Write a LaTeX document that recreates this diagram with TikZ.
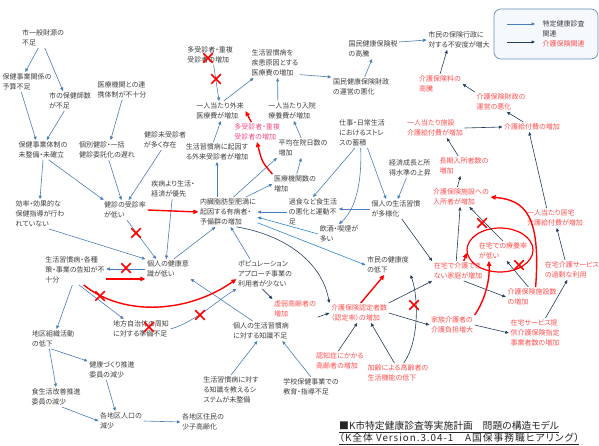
\documentclass[tikz,border=0pt]{standalone}
\usepackage{fontspec}
\setmainfont{Noto Sans CJK JP}[RawFeature={+palt}]
\usetikzlibrary{arrows.meta,shapes.geometric,shapes.misc,calc}
\definecolor{tg}{HTML}{404040}
\definecolor{tred}{HTML}{FF4F4F}
\definecolor{tpink}{HTML}{F0508C}
\definecolor{ab}{HTML}{4A7EBB}
\definecolor{al}{HTML}{2E86D6}
\definecolor{an}{HTML}{263D5E}
\definecolor{legb}{HTML}{6C8EBF}
\definecolor{legf}{HTML}{F5F8FC}
\tikzset{
  gtext/.style={font=\fontsize{7}{10}\selectfont, text=tg, align=left, inner sep=1.5pt},
  rtext/.style={gtext, text=tred},
  ptext/.style={gtext, text=tpink},
  barrow/.style={draw=ab, line width=0.6pt, -{Triangle[length=3.5pt,width=3pt]}},
  larrow/.style={draw=al, line width=0.6pt, -{Triangle[length=3.5pt,width=3pt]}},
  narrow/.style={draw=an, line width=0.6pt, -{Triangle[length=3.5pt,width=3pt]}},
  rarrow/.style={draw=red, line width=1.4pt, -{Triangle[length=5pt,width=4.5pt]}},
  xm/.style={cross out, draw=red, line width=1.5pt, minimum size=8pt, inner sep=0pt}
}
\begin{document}
\begin{tikzpicture}[x=1pt,y=-1pt]
\useasboundingbox[fill=white] (0,0) rectangle (599,446);
% ellipse
\node[ellipse, draw=red, line width=1.2pt, minimum width=66pt, minimum height=44pt, inner sep=0pt] (ell) at (500,250) {};
% nodes (grey)
\node[gtext] (n1) at (43,38) {市一般財源の\\不足};
\node[gtext] (n2) at (27,82) {保健事業関係の\\予算不足};
\node[gtext] (n3) at (70,101) {市の保健師数\\が不足};
\node[gtext] (n4) at (122,90) {医療機関との連\\携体制が不十分};
\node[gtext] (n5) at (43,150) {保健事業体制の\\未整備・未確立};
\node[gtext] (n6) at (107,150) {個別健診・一括\\健診委託化の遅れ};
\node[gtext] (n7) at (165,140) {健診未受診者\\が多く存在};
\node[gtext] (n8) at (40,214) {効率・効果的な\\保健指導が行わ\\れていない};
\node[gtext] (n9) at (125,210) {健診の受診率\\が低い};
\node[gtext] (n10) at (173,189) {疾病より生活・\\経済が優先};
\node[gtext] (n11) at (168,269) {個人の健康意\\識が低い};
\node[gtext] (n12) at (75,270) {生活習慣病・各種\\策・事業の告知が不\\十分};
\node[gtext] (n13) at (141,329) {地方自治体の周知\\に対する準備不足};
\node[gtext] (n14) at (53,339) {地区組織活動\\の低下};
\node[gtext] (n15) at (112,370) {健康づくり推進\\委員の減少};
\node[gtext] (n16) at (56,397) {食生活改善推進\\委員の減少};
\node[gtext] (n17) at (121,421) {各地区人口の\\減少};
\node[gtext] (n18) at (203,422) {各地区住民の\\少子高齢化};
\node[gtext] (n19) at (210,55) {多受診者・重複\\受診者の増加};
\node[gtext] (n20) at (220,111) {一人当たり外来\\医療費が増加};
\node[gtext] (n21) at (275,63) {生活習慣病を\\疾患原因とする\\医療費の増加};
\node[gtext] (n22) at (292,111) {一人当たり入院\\療養費が増加};
\node[ptext] (n23) at (257,132) {多受診者・重複\\受診者の増加};
\node[gtext] (n24) at (217,152) {生活習慣病に起因す\\る外来受診者が増加};
\node[gtext] (n25) at (303,148) {平均在院日数の\\増加};
\node[gtext] (n26) at (295,184) {医療機関数の\\増加};
\node[gtext] (n27) at (228,212) {内臓脂肪型肥満に\\起因する有病者・\\予備群の増加};
\node[gtext] (n28) at (313,212) {過食など食生活\\の悪化と運動不\\足};
\node[gtext] (n29) at (339,234) {飲酒・喫煙が\\多い};
\node[gtext] (n30) at (362,133) {仕事・日常生活\\におけるストレ\\スの蓄積};
\node[gtext] (n31) at (361,87) {国民健康保険財政\\の運営の悪化};
\node[gtext] (n32) at (373,49) {国民健康保険税\\の高騰};
\node[gtext] (n33) at (459,40) {市民の保険行政に\\対する不安度が増大};
\node[gtext] (n47) at (410,168) {経済成長と所\\得水準の上昇};
\node[gtext] (n48) at (396,209) {個人の生活習慣\\が多様化};
\node[gtext] (n49) at (388,265) {市民の健康度\\の低下};
\node[gtext] (n50) at (265,274) {ポピュレーション\\アプローチ事業の\\利用者が少ない};
\node[gtext] (n55) at (261,331) {個人の生活習慣病\\に対する知識不足};
\node[gtext] (n56) at (231,390) {生活習慣病に対す\\る知識を教えるシ\\ステムが未整備};
\node[gtext] (n57) at (311,387) {学校保健事業での\\教育・指導不足};
% nodes (red)
\node[rtext] (n34) at (440,84) {介護保険料の\\高騰};
\node[rtext] (n35) at (501,102) {介護保険財政の\\運営の悪化};
\node[rtext] (n36) at (435,128) {一人当たり施設\\介護給付費が増加};
\node[rtext] (n37) at (532,127) {介護給付費の増加};
\node[rtext] (n38) at (464,166) {長期入所者数の\\増加};
\node[rtext] (n39) at (461,197) {介護保険施設への\\入所者が増加};
\node[rtext] (n40) at (555,218) {一人当たり居宅\\介護給付費が増加};
\node[rtext] (n41) at (572,270) {在宅介護サービス\\の過剰な利用};
\node[rtext] (n42) at (503,251) {在宅での療養率\\が低い};
\node[rtext] (n43) at (458,271) {在宅で介護でき\\ない家庭が増加};
\node[rtext] (n44) at (532,297) {介護保険施設数\\の増加};
\node[rtext] (n45) at (452,325) {家族介護者の\\介護負担増大};
\node[rtext] (n46) at (535,333) {在宅サービス提\\供介護保険指定\\事業者数の増加};
\node[rtext] (n51) at (295,309) {虚弱高齢者の\\増加};
\node[rtext] (n52) at (359,313) {介護保険認定者数\\（認定率）の増加};
\node[rtext] (n53) at (340,361) {認知症にかかる\\高齢者の増加};
\node[rtext] (n54) at (398,373) {加齢による高齢者の\\生活機能の低下};
% blue connectors
\draw[barrow] (n1.-115) -- (n2.100);
\draw[barrow] (n1.-80) -- (n3.125);
\draw[barrow] (n2.-120) -- (n5.125);
\draw[barrow] (n3.-120) -- (n5.70);
\draw[barrow] (n4.south) -- (n6.70);
\draw[barrow] (n5.south) -- (n8.north);
\draw[barrow] (n5.-60) -- (n9.155);
\draw[barrow] (n6.-80) -- (n9.110);
\draw[barrow] (n7.-110) -- (n9.70);
\draw[barrow] (n9.-80) -- (n11.140);
\draw[barrow] (n8.-60) -- (n11.north west);
\draw[barrow] (n11.west) -- (n11.west -| n12.east);
\draw[barrow] (n10.-95) -- (n11.100);
\draw[barrow] (n11.60) -- (n27.-130);
\draw[barrow] (n50.135) -- (n27.-80);
\draw[barrow] (n12.-100) -- (n14.70);
\draw[barrow] (n12.-75) -- (n13.150);
\draw[barrow] (n14.-100) -- (n15.160);
\draw[barrow] (n14.-110) -- (n16.north);
\draw[barrow] (n15.-120) -- (n17.120);
\draw[barrow] (n16.-60) -- (n17.west);
\draw[barrow] (n17.east) -- (n18.west);
\draw[barrow] (n13.east) .. controls (195,322) and (218,300) .. (n50.south west);
\draw[barrow] (n55.130) -- (n11.south east);
\draw[barrow] (n56.north) -- (n55.-110);
\draw[barrow] (n57.north) -- (n55.-25);
\draw[barrow] (n24.south |- n27.north) -- (n24.south);
\draw[barrow] (n27.70) -- (n25.south west);
\draw[barrow] (n27.40) -- (n26.west);
\draw[barrow] (n28.west) -- (n27.east);
\draw[larrow] (n29.west) -- (n27.-10);
\draw[larrow] (n27.-20) -- (n49.west);
\draw[barrow] (n24.110) -- (n20.-85);
\draw[barrow] (n19.-70) -- (n20.95);
\draw[barrow] (n20.70) -- (n21.-145);
\draw[barrow] (n22.145) -- (n21.-80);
\draw[barrow] (n25.100) -- (n22.-80);
\draw[barrow] (n26.80) -- (n25.-100);
\draw[barrow] (n21.-25) -- (n31.north west);
\draw[barrow] (n31.70) -- (n32.-95);
\draw[barrow] (n32.15) -- (n33.west);
\draw[barrow] (n30.-115) -- (n28.north);
\draw[barrow] (n30.-95) .. controls (362,185) and (355,210) .. (n29.north);
\draw[barrow] (n30.-70) -- (n48.135);
\draw[barrow] (n47.-110) -- (n48.80);
\draw[barrow] (n48.west) -- (n48.west -| n28.east);
% navy connectors
\draw[narrow] (n34.north) -- (n33.-140);
\draw[narrow] (n35.north west) -- (n34.east);
\draw[narrow] (n37.150) -- (n35.-60);
\draw[narrow] (n36.east) -- (n37.west);
\draw[narrow] (n38.120) -- (n36.-40);
\draw[narrow] (n39.110) -- (n38.-110);
\draw[narrow] (n40.130) -- (n37.-120);
\draw[narrow] (n41.125) -- (n40.-80);
\draw[narrow] (n46.55) -- (n41.-115);
\draw[narrow] (n43.100) -- (n39.-95);
\draw[narrow] (n42.north) -- (n39.-50);
\draw[narrow] (n44.110) -- (n42.-70);
\draw[narrow] (n43.-60) -- (n44.west);
\draw[narrow] (n45.east) -- (n46.west);
\draw[narrow] (n48.-60) -- (n43.north west);
\draw[narrow] (n52.north east) -- (n43.south west);
\draw[narrow] (n52.east) -- (n45.west);
\draw[narrow] (n51.-20) -- (n52.west);
\draw[narrow] (n53.100) -- (n52.-100);
\draw[narrow] (n54.110) -- (n52.-40);
\draw[narrow] (n54.60) .. controls (420,340) and (418,295) .. (n49.south east);
\draw[narrow] (n50.-100) -- (n51.north west);
\draw[narrow] (n27.-60) .. controls (285,235) and (322,262) .. (n52.north west);
% red connectors
\draw[rarrow] (n9.east) -- (n27.west);
\draw[rarrow] (n26.north west) .. controls (262,162) .. (n23.south);
\draw[rarrow] (n23.120) -- (n20.east);
\draw[rarrow] (n11.south west -| n12.east) -- (n11.south west);
\draw[rarrow] (n12.-60) .. controls (125,318) and (190,312) .. (n50.-170);
\draw[rarrow] (n52.80) -- (n49.-110);
\draw[rarrow] (n43.60) -- (ell.185);
\draw[rarrow] (n45.north east) .. controls (485,300) and (490,280) .. (n42.-145);
\draw[rarrow] (n44.70) .. controls (541,215) and (525,200) .. (n39.east);
% cut marks
\node[xm] (x1) at (208,58) {};
\node[xm] (x2) at (216,79) {};
\node[xm] (x3) at (136,233) {};
\node[xm] (x4) at (126,268) {};
\node[xm] (x5) at (100,296) {};
\node[xm] (x6) at (149,327) {};
\node[xm] (x7) at (200,315) {};
\node[xm] (x8) at (482,223) {};
\node[xm] (x9) at (519,265) {};
\node[xm] (x10) at (414,305) {};
% legend
\node[draw=legb, fill=legf, rounded corners=7pt, line width=0.7pt, minimum width=104pt, minimum height=50pt] (lg) at (546,34) {};
\coordinate (la) at (507,24);
\coordinate (lb) at (535,24);
\coordinate (lc) at (507,42);
\coordinate (ld) at (535,42);
\draw[barrow] (la) -- (lb);
\draw[narrow] (lc) -- (ld);
\node[gtext, anchor=west] (lt1) at (541,28.5) {特定健康診査\\関連};
\node[rtext, anchor=west] (lt2) at (541,44) {介護保険関連};
% title
\node[anchor=north west, inner sep=0pt, align=left, text=black!85, font=\fontsize{9.8}{12}\selectfont] (tt) at (339,421)
  {\underline{■K市特定健康診査等実施計画　問題の構造モデル}\\\underline{\addfontfeatures{LetterSpace=10}（K全体 Version.3.04-1　A国保事務職ヒアリング）}};
\end{tikzpicture}
\end{document}
